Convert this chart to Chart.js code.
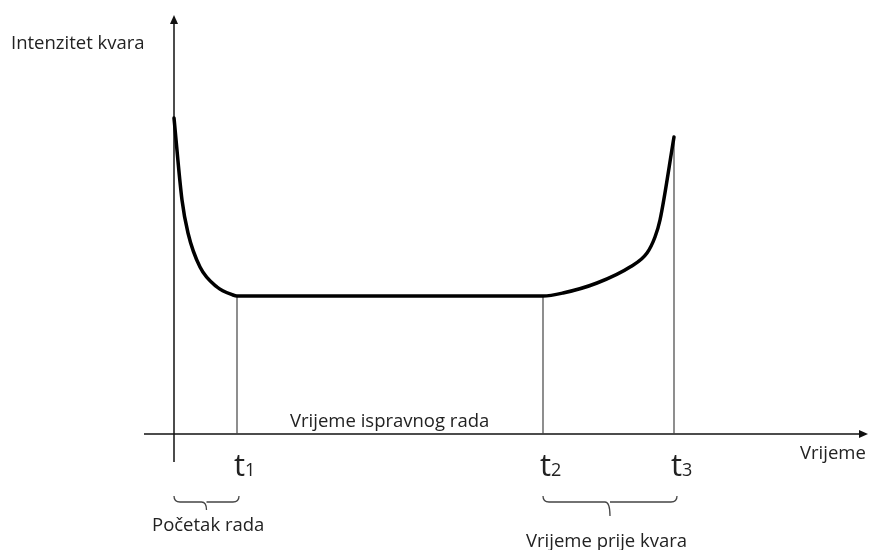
<!DOCTYPE html>
<html>
<head>
<meta charset="utf-8">
<script src="https://cdn.jsdelivr.net/npm/chart.js@4"></script>
<style>
  html, body { margin: 0; padding: 0; background: #fff; }
  #wrap { width: 872px; height: 550px; }
</style>
</head>
<body>
<div id="wrap"><canvas id="chart"></canvas></div>
<script>
// Bathtub curve - intenzitet kvara kroz vrijeme
const curveX = [0, 8, 14, 26, 43, 59, 63, 369, 389, 423, 456, 473, 481, 486, 500];
const curveY = [316, 234, 201, 167, 147, 139, 138, 138, 141, 151, 167, 181, 197, 214, 297];

const tickTimes = [63, 369, 500];
const tickNames = ["1", "2", "3"];
const tickHeights = [138, 138, 297];

const xRange = [-30, 694];
const yRange = [-28, 419];

const yAxisTitle = "Intenzitet kvara";
const xAxisTitle = "Vrijeme";
const midLabel = "Vrijeme ispravnog rada";
const braceLabels = ["Početak rada", "Vrijeme prije kvara"];

const FONT = '"Open Sans", sans-serif';

const curve = curveX.map((x, i) => ({ x: x, y: curveY[i] }));

const datasets = [{
  data: curve,
  borderColor: "#000",
  borderWidth: 3.5,
  pointRadius: 0,
  cubicInterpolationMode: "monotone",
  borderCapStyle: "round"
}];

// tanke okomite linije na t1, t2, t3
tickTimes.forEach((t, i) => {
  datasets.push({
    data: [{ x: t, y: 0 }, { x: t, y: tickHeights[i] }],
    borderColor: "#444",
    borderWidth: 1.2,
    pointRadius: 0
  });
});

// osi
datasets.push({
  data: [{ x: xRange[0], y: 0 }, { x: xRange[1] - 6, y: 0 }],
  borderColor: "#111", borderWidth: 1.5, pointRadius: 0
});
datasets.push({
  data: [{ x: 0, y: yRange[0] }, { x: 0, y: yRange[1] - 6 }],
  borderColor: "#111", borderWidth: 1.5, pointRadius: 0
});

const decor = {
  id: "decor",
  afterDatasetsDraw(chart) {
    const ctx = chart.ctx;
    const sx = chart.scales.x, sy = chart.scales.y;
    const X = v => sx.getPixelForValue(v);
    const Y = v => sy.getPixelForValue(v);
    ctx.save();
    ctx.fillStyle = "#111";

    // strelice
    const ax = X(xRange[1]), ay = Y(0);
    ctx.beginPath();
    ctx.moveTo(ax, ay);
    ctx.lineTo(ax - 9, ay - 4);
    ctx.lineTo(ax - 9, ay + 4);
    ctx.closePath();
    ctx.fill();
    const bx = X(0), by = Y(yRange[1]);
    ctx.beginPath();
    ctx.moveTo(bx, by);
    ctx.lineTo(bx - 4, by + 9);
    ctx.lineTo(bx + 4, by + 9);
    ctx.closePath();
    ctx.fill();

    ctx.fillStyle = "#222";
    ctx.textBaseline = "alphabetic";
    ctx.font = "18.5px " + FONT;
    ctx.textAlign = "left";
    ctx.fillText(yAxisTitle, 11, 49);
    ctx.fillText(xAxisTitle, 800, 459);
    ctx.fillText(midLabel, 290, 427);

    // t1, t2, t3
    tickTimes.forEach((t, i) => {
      const px = X(t);
      ctx.font = "31px " + FONT;
      ctx.fillText("t", px - 3, 476);
      const w = ctx.measureText("t").width;
      ctx.font = "18px " + FONT;
      ctx.fillText(tickNames[i], px - 3 + w, 476);
    });

    // viticaste zagrade
    const brace = (x0, x1, y, stem) => {
      const xm = (x0 + x1) / 2;
      ctx.beginPath();
      ctx.moveTo(x0, y);
      ctx.quadraticCurveTo(x0, y + 6, x0 + 6, y + 6);
      ctx.lineTo(xm - 5, y + 6);
      ctx.quadraticCurveTo(xm, y + 6, xm, y + 6 + stem);
      ctx.moveTo(xm, y + 6);
      ctx.quadraticCurveTo(xm, y + 6, xm + 5, y + 6);
      ctx.lineTo(x1 - 6, y + 6);
      ctx.quadraticCurveTo(x1, y + 6, x1, y);
      ctx.stroke();
    };
    ctx.strokeStyle = "#444";
    ctx.lineWidth = 1.3;
    brace(X(0), X(tickTimes[0]) + 2, 496, 8);
    brace(X(tickTimes[1]), X(tickTimes[2]) + 3, 496, 14);

    ctx.fillStyle = "#222";
    ctx.font = "18.5px " + FONT;
    ctx.fillText(braceLabels[0], 152, 531);
    ctx.fillText(braceLabels[1], 526, 547);
    ctx.restore();
  }
};

new Chart(document.getElementById("chart"), {
  type: "line",
  data: { datasets: datasets },
  options: {
    responsive: true,
    maintainAspectRatio: false,
    animation: false,
    layout: { padding: { left: 144, right: 4, top: 15, bottom: 88 } },
    plugins: { legend: { display: false }, tooltip: { enabled: false } },
    scales: {
      x: { type: "linear", min: xRange[0], max: xRange[1], display: false },
      y: { type: "linear", min: yRange[0], max: yRange[1], display: false }
    }
  },
  plugins: [decor]
});
</script>
</body>
</html>
